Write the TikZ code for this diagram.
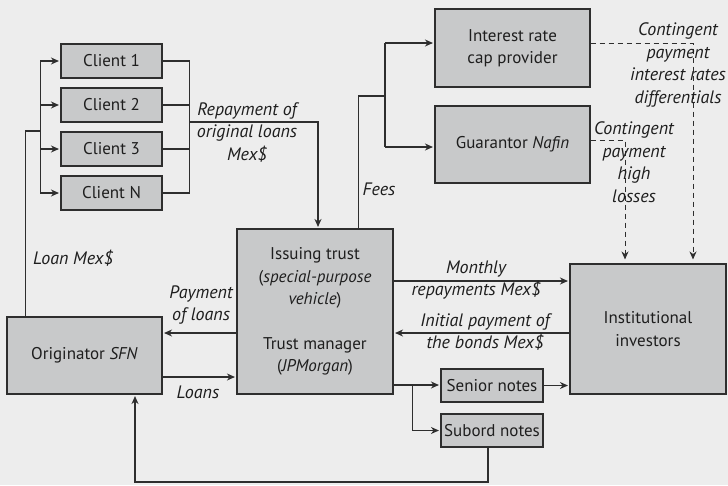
\documentclass[tikz,border=0pt]{standalone}
\usepackage{fontspec}
\setmainfont{PT Sans}
\usetikzlibrary{arrows.meta,calc}
\definecolor{bgc}{HTML}{EDEDED}
\definecolor{boxc}{HTML}{C8C9CA}
\definecolor{linec}{HTML}{2E2E2E}
\definecolor{textc}{HTML}{1E1E1E}
\tikzset{
  box/.style={draw=linec, line width=1.1pt, fill=boxc, inner sep=0pt, align=center, text=textc},
  lbl/.style={font=\fontsize{18}{22.5}\selectfont\itshape, align=center, text=textc, inner sep=0pt},
  conn/.style={draw=linec, line width=1.1pt},
  arr/.style={conn, -{Stealth[length=8pt,width=7pt]}, shorten >=1.5pt},
  dsh/.style={conn, line width=0.9pt, dash pattern=on 5pt off 4pt, -{Stealth[length=8pt,width=7pt]}, shorten >=4pt},
}
\begin{document}
\begin{tikzpicture}[x=1pt,y=-1pt,font=\fontsize{17}{22.5}\selectfont]
\fill[bgc] (0,0) rectangle (728,485);
\useasboundingbox (0,0) rectangle (728,485);
% boxes
\node[box, minimum width=101pt, minimum height=34pt] (c1) at (111.5,61) {Client 1};
\node[box, minimum width=101pt, minimum height=34pt] (c2) at (111.5,105) {Client 2};
\node[box, minimum width=101pt, minimum height=34pt] (c3) at (111.5,149) {Client 3};
\node[box, minimum width=101pt, minimum height=34pt] (cN) at (111.5,193) {Client N};
\node[box, minimum width=155pt, minimum height=78pt] (cap) at (512.5,48) {Interest rate\\cap provider};
\node[box, minimum width=155pt, minimum height=77pt] (guar) at (512.5,144.5) {Guarantor \textit{Nafin}};
\node[box, minimum width=156pt, minimum height=165pt] (trust) at (315,311.5) {Issuing trust\\(\textit{special-purpose}\\\textit{vehicle})\\[22pt]Trust manager\\(\textit{JPMorgan})};
\node[box, minimum width=155pt, minimum height=77pt] (orig) at (84.5,355.5) {Originator \textit{SFN}};
\node[box, minimum width=156pt, minimum height=130pt] (inv) at (648,329) {Institutional\\investors};
\node[box, minimum width=102pt, minimum height=33pt] (sen) at (492,385.5) {Senior notes};
\node[box, minimum width=102pt, minimum height=33pt] (sub) at (492,430.5) {Subord notes};
% left bus
\coordinate (lbt) at ([xshift=-20pt]c1.west);
\coordinate (lbb) at ([xshift=-20pt]cN.west);
\draw[conn] (lbt) -- (lbb);
\draw[arr] (lbt) -- (c1.west);
\draw[arr] (lbt|-c2.west) -- (c2.west);
\draw[arr] (lbt|-c3.west) -- (c3.west);
\draw[arr] (lbb) -- (cN.west);
\coordinate (loanj) at (41,131);
\draw[conn] ([xshift=19pt]orig.north west) |- (loanj);
% right bus
\draw[conn] (c1.east) -- ++(27,0) |- (cN.east);
\draw[conn] (c2.east) -- ++(27,0);
\draw[conn] (c3.east) -- ++(27,0);
\coordinate (rep) at (189,122);
\draw[arr] (rep) -| ([xshift=3pt]trust.north);
% fees
\coordinate (feej) at (385,96);
\draw[conn] ([xshift=-35pt]trust.north east) |- (feej);
\draw[conn] (feej) -- (feej|-0,43) (feej) -- (feej|-0,147);
\draw[arr] (feej|-0,43) -- (cap.west|-0,43);
\draw[arr] (feej|-0,147) -- (guar.west|-0,147);
% dashed contingent
\draw[dsh] ([yshift=5pt]cap.east) -| ([xshift=45pt]inv.north);
\draw[dsh] ([yshift=4.5pt]guar.east) -| ([xshift=-23pt]inv.north);
% trust <-> investors
\coordinate (m1) at ([yshift=30.5pt]trust.east);
\draw[arr] (m1) -- (m1-|inv.west);
\coordinate (i1) at ([yshift=-21.5pt]trust.east);
\draw[arr] (i1-|inv.west) -- (i1);
% trust <-> originator
\coordinate (p1) at ([yshift=-21.5pt]trust.west);
\draw[arr] (p1) -- (p1-|orig.east);
\coordinate (l1) at ([yshift=-21.5pt]orig.east);
\draw[arr] (l1) -- (l1-|trust.west);
% notes
\coordinate (s0) at ([yshift=-73.5pt]trust.east);
\coordinate (br) at ([xshift=19pt]s0);
\draw[arr] (s0) -- (s0-|sen.west);
\draw[arr] (br) |- (sub.west);
\draw[arr] (sen.east) -- (sen.east-|inv.west);
\coordinate (lp) at (300,482);
\draw[arr] ([xshift=-4pt]sub.south) -- ([xshift=-4pt]sub.south|-lp) -| ([xshift=50.5pt]orig.south);
% labels
\node[lbl] (lrep) at (247,132) {Repayment of\\original loans\\Mex\$};
\node[lbl] (lloan) at (73,258) {Loan Mex\$};
\node[lbl] (lpay) at (201,305) {Payment\\of loans};
\node[lbl] (lloans) at (198,392) {Loans};
\node[lbl] (lfees) at (379,189) {Fees};
\node[lbl] (lmon) at (476,280) {Monthly\\repayments Mex\$};
\node[lbl] (lini) at (485,332) {Initial payment of\\the bonds Mex\$};
\node[lbl] (lc1) at (678,65) {Contingent\\payment\\interest rates\\differentials};
\node[lbl] (lc2) at (634,162) {Contingent\\payment\\high\\losses};
\end{tikzpicture}
\end{document}
